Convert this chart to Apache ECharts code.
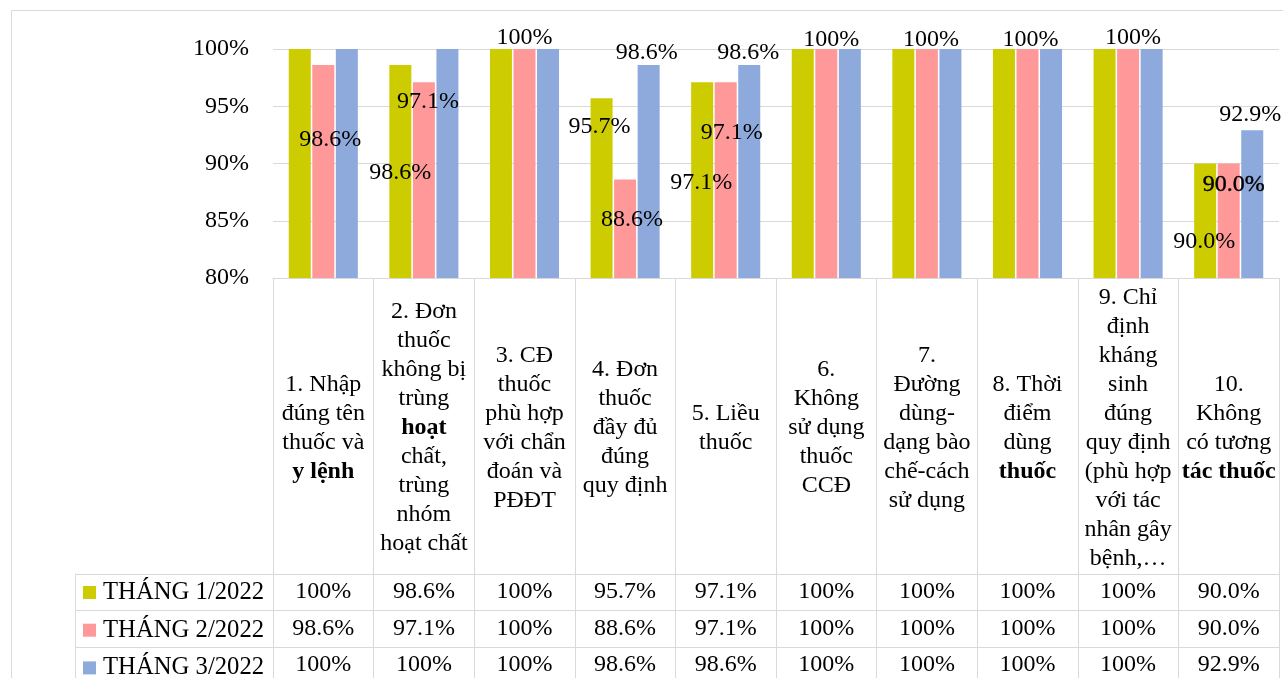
<!DOCTYPE html>
<html>
<head>
<meta charset="utf-8">
<script src="https://cdn.jsdelivr.net/npm/echarts@6/dist/echarts.min.js"></script>
<style>
  html, body { margin: 0; padding: 0; background: #fff; overflow: hidden; }
  #c { width: 1283px; height: 700px; }
</style>
</head>
<body>
<div id="c"></div>
<script>
// ---- DATA ----
const categories = [
  '1. Nhập\nđúng tên\nthuốc và\n{b|y lệnh}',
  '2. Đơn\nthuốc\nkhông bị\ntrùng\n{b|hoạt}\nchất,\ntrùng\nnhóm\nhoạt chất',
  '3. CĐ\nthuốc\nphù hợp\nvới chẩn\nđoán và\nPĐĐT',
  '4. Đơn\nthuốc\nđầy đủ\nđúng\nquy định',
  '5. Liều\nthuốc',
  '6.\nKhông\nsử dụng\nthuốc\nCCĐ',
  '7.\nĐường\ndùng-\ndạng bào\nchế-cách\nsử dụng',
  '8. Thời\nđiểm\ndùng\n{b|thuốc}',
  '9. Chỉ\nđịnh\nkháng\nsinh\nđúng\nquy định\n(phù hợp\nvới tác\nnhân gây\nbệnh,…',
  '10.\nKhông\ncó tương\n{b|tác thuốc}'
];
const seriesNames = ['THÁNG 1/2022', 'THÁNG 2/2022', 'THÁNG 3/2022'];
const thang1 = [100, 98.6, 100, 95.7, 97.1, 100, 100, 100, 100, 90.0];
const thang2 = [98.6, 97.1, 100, 88.6, 97.1, 100, 100, 100, 100, 90.0];
const thang3 = [100, 100, 100, 98.6, 98.6, 100, 100, 100, 100, 92.9];
const yTicks = { min: 80, max: 100, interval: 5 };

// ---- STYLE / LAYOUT ----
const colors = ['#CCCC00', '#FF9999', '#8EAADC'];
const FONT = '"Liberation Serif", "Times New Roman", serif';
const FS = 24;
const GRID_LINE = '#D9D9D9';
// per-series label offsets from bar top-center (null = label hidden)
const labelOffsets = [
  [null, [0, 108], null, [-2, 28], [-1, 100], null, null, null, null, [-1, 78]],
  [[7, 75], [4, 19], [0, -11], [7, 40], [6, 50], [5, -9], [4, -9], [3, -9], [5, -11], [5, 21]],
  [null, null, null, [-2, -12], [-1, -12], null, null, null, null, [-2, -16]]
];
// labels that appear doubled (heavier) in the reference
const heavyLabels = [[1, 9]];

function fmt(v) { return v === 100 ? '100%' : v.toFixed(1) + '%'; }

const values = [thang1, thang2, thang3];

const barSeries = values.map((vals, s) => ({
  name: seriesNames[s],
  type: 'bar',
  xAxisIndex: 0,
  yAxisIndex: 0,
  barWidth: 22,
  barGap: '7%',
  itemStyle: { color: colors[s] },
  label: {
    show: true,
    position: 'top',
    distance: 0,
    align: 'center',
    verticalAlign: 'middle',
    fontFamily: FONT,
    fontSize: FS,
    color: '#000',
    formatter: p => fmt(p.value)
  },
  data: vals.map((v, i) => {
    const off = labelOffsets[s][i];
    if (!off) return { value: v, label: { show: false } };
    const heavy = heavyLabels.some(h => h[0] === s && h[1] === i);
    const lbl = { show: true, offset: off };
    if (heavy) { lbl.textBorderColor = '#000'; lbl.textBorderWidth = 0.4; }
    return { value: v, label: lbl };
  }),
  z: 2
}));

const tableData = [];
values.forEach((vals, r) => vals.forEach((v, c) => tableData.push([c, r, v])));

const option = {
  animation: false,
  backgroundColor: '#fff',
  graphic: [{
    type: 'rect',
    shape: { x: 11.5, y: 10.5, width: 1400, height: 800 },
    style: { fill: 'none', stroke: GRID_LINE, lineWidth: 1 },
    silent: true
  }],
  legend: {
    data: seriesNames,
    orient: 'vertical',
    left: 83,
    top: 580,
    padding: 0,
    itemWidth: 13,
    itemHeight: 13,
    itemGap: 12.7,
    icon: 'rect',
    selectedMode: false,
    textStyle: { fontFamily: FONT, fontSize: 24.7, color: '#000', lineHeight: 24, padding: [0, 0, 0, 2] }
  },
  grid: [
    { left: 273, right: 4, top: 49, height: 229 },
    { left: 273, right: 4, top: 574, height: 110 }
  ],
  xAxis: [
    {
      type: 'category',
      gridIndex: 0,
      data: categories,
      axisLine: { show: true, lineStyle: { color: GRID_LINE, width: 1 } },
      axisTick: { show: true, length: 296, lineStyle: { color: GRID_LINE, width: 1 } },
      axisLabel: {
        interval: 0,
        margin: 150,
        verticalAlign: 'middle',
        align: 'center',
        fontFamily: FONT,
        fontSize: FS,
        lineHeight: 29,
        color: '#000',
        rich: {
          b: { fontFamily: FONT, fontSize: FS, lineHeight: 29, fontWeight: 'bold', color: '#000' }
        }
      },
      splitLine: { show: false }
    },
    {
      type: 'category',
      gridIndex: 1,
      data: categories.map((_, i) => i),
      axisLine: { show: false },
      axisTick: { show: false },
      axisLabel: { show: false },
      splitLine: { show: true, lineStyle: { color: GRID_LINE, width: 1 } }
    }
  ],
  yAxis: [
    {
      type: 'value',
      gridIndex: 0,
      min: yTicks.min,
      max: yTicks.max,
      interval: yTicks.interval,
      axisLine: { show: false },
      axisTick: { show: false },
      axisLabel: {
        margin: 24,
        fontFamily: FONT,
        fontSize: FS,
        color: '#000',
        formatter: '{value}%'
      },
      splitLine: { show: true, lineStyle: { color: GRID_LINE, width: 1 } }
    },
    {
      type: 'category',
      gridIndex: 1,
      inverse: true,
      data: seriesNames,
      axisLine: { show: true, lineStyle: { color: GRID_LINE, width: 1 } },
      axisTick: { show: true, length: 198, lineStyle: { color: GRID_LINE, width: 1 } },
      axisLabel: { show: false },
      splitLine: { show: true, lineStyle: { color: GRID_LINE, width: 1 } }
    },
    {
      type: 'category',
      gridIndex: 1,
      inverse: true,
      position: 'left',
      offset: 198,
      data: seriesNames,
      axisLine: { show: true, lineStyle: { color: GRID_LINE, width: 1 } },
      axisTick: { show: false },
      axisLabel: { show: false },
      splitLine: { show: false }
    },
    {
      type: 'category',
      gridIndex: 1,
      inverse: true,
      position: 'right',
      data: seriesNames,
      axisLine: { show: true, lineStyle: { color: GRID_LINE, width: 1 } },
      axisTick: { show: false },
      axisLabel: { show: false },
      splitLine: { show: false }
    }
  ],
  series: barSeries.concat([{
    name: 'table',
    type: 'scatter',
    xAxisIndex: 1,
    yAxisIndex: 1,
    symbolSize: 1,
    silent: true,
    itemStyle: { color: '#fff', opacity: 1 },
    label: {
      show: true,
      position: 'top',
      distance: 0,
      align: 'center',
      verticalAlign: 'middle',
      fontFamily: FONT,
      fontSize: FS,
      color: '#000',
      opacity: 1,
      formatter: p => fmt(p.value[2])
    },
    data: tableData
  }])
};

const chart = echarts.init(document.getElementById('c'));
chart.setOption(option);
</script>
</body>
</html>
